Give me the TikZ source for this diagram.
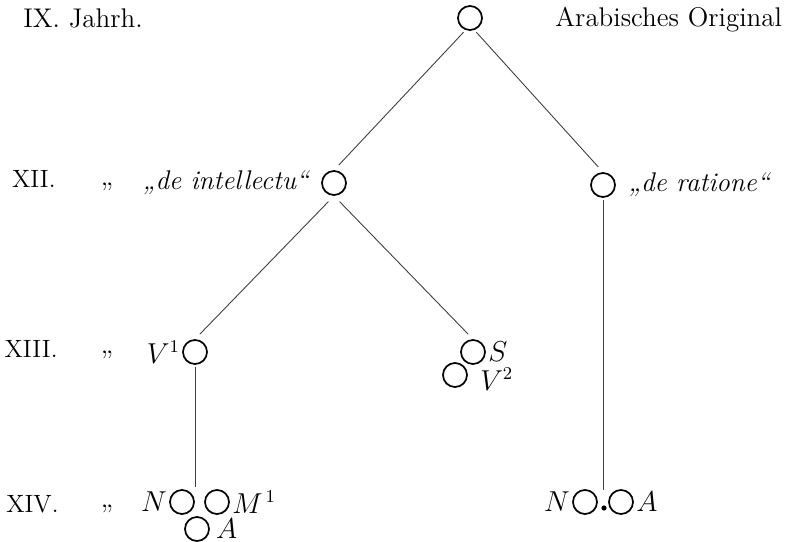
\documentclass[tikz,border=0pt]{standalone}
\usepackage{fontspec}
\usetikzlibrary{positioning}

\begin{document}
\begin{tikzpicture}[
    x=0.5pt, y=-0.5pt,
    font=\fontsize{13.5}{15}\selectfont,
    codex/.style = {draw, circle, line width=0.85pt, minimum size=12pt, inner sep=0pt},
    lbl/.style = {inner sep=0pt, font=\fontsize{13.5}{15}\selectfont\itshape},
    era/.style = {inner sep=0pt, anchor=base east, font=\fontsize{12.5}{14}\selectfont},
    link/.style = {draw=black!75, line width=0.45pt, shorten <=4pt, shorten >=3.5pt}
  ]
  \useasboundingbox (0,0) rectangle (800,542);
  % Jahrhunderte
  \node[inner sep=0pt, anchor=base west] (c9) at (23,27) {IX.\ Jahrh.};
  \node[era] (c12) at (56,187) {XII.};
  \node[era] (c13) at (58,357) {XIII.};
  \node[era] (c14) at (59,512) {XIV.};
  \foreach \y/\n in {187/12, 355/13, 509/14}
    \node[inner sep=0pt] (d\n) at (107,\y) {„};
  % Handschriften
  \node[codex] (root) at (470,18) {};
  \node[inner sep=0pt, anchor=base west] (torig) at (555,26) {Arabisches\ Original};
  \node[codex] (intel) at (334,183) {};
  \node[lbl, left=6pt of intel] (tintel) {„de intellectu“};
  \node[codex] (ratio) at (603,185) {};
  \node[lbl, right=6pt of ratio] (tratio) {„de ratione“};
  \node[codex] (V1) at (195,352) {};
  \node[lbl, left=1pt of V1] (tV1) {$V^1$};
  \node[codex] (S) at (473,352) {};
  \node[lbl, right=1pt of S] (tS) {$S$};
  \node[codex] (V2) at (455,375) {};
  \node[lbl, right=6pt of V2, yshift=-2pt] (tV2) {$V^2$};
  \node[codex] (N1) at (182,502) {};
  \node[lbl, left=1pt of N1] (tN1) {$N$};
  \node[codex] (M1) at (217,502) {};
  \node[lbl, right=1pt of M1] (tM1) {$M^{\,1}$};
  \node[codex] (A1) at (197,529) {};
  \node[lbl, right=3pt of A1] (tA1) {$A$};
  \node[codex] (N2) at (585,502) {};
  \node[lbl, left=1pt of N2] (tN2) {$N$};
  \node[codex] (A2) at (621,502) {};
  \node[lbl, right=1pt of A2] (tA2) {$A$};
  \node[circle, fill, inner sep=0pt, minimum size=2.6pt] (pt) at (604,508) {};
  \coordinate (g1) at (195,487);
  \coordinate (g2) at (603,490);
  % Verbindungen
  \draw[link, shorten <=1.5pt] (root.250) -- (intel.north);
  \draw[link, shorten <=1.5pt] (root.290) -- (ratio.north);
  \draw[link] (intel.south) -- (V1.north);
  \draw[link] (intel.south) -- (S.north);
  \draw[link, shorten <=1pt, shorten >=0pt] (V1) -- (g1);
  \draw[link, shorten <=1pt, shorten >=0pt] (ratio) -- (g2);
\end{tikzpicture}
\end{document}
